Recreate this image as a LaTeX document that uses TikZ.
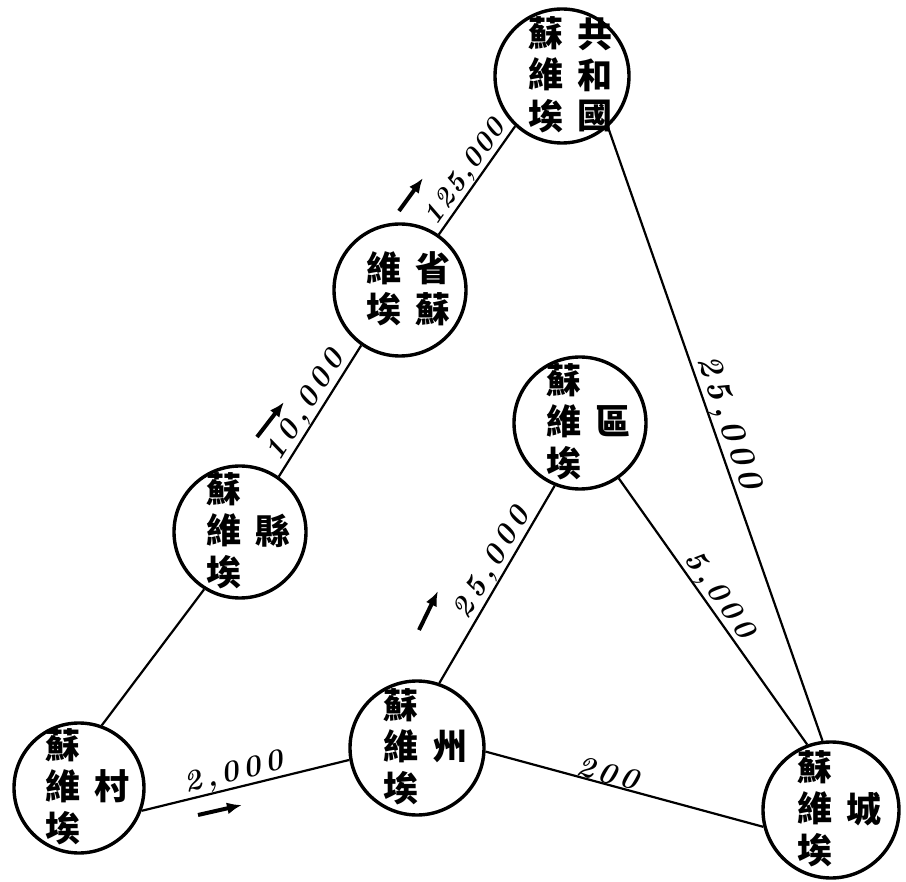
\documentclass[tikz,border=0pt]{standalone}
\usepackage{fontspec}
\newfontfamily\cjk{Noto Sans CJK TC}
\newfontfamily\hand{lmroman10-bolditalic.otf}[LetterSpace=16]
\newfontfamily\handtight{lmroman10-bolditalic.otf}[LetterSpace=7]
\usetikzlibrary{arrows.meta,positioning}

% one vertical column of characters
\newcommand\vcol[1]{\begin{tabular}[c]{@{}c@{}}#1\end{tabular}}
% #1 right column (read first), #2 left column; box of no size, so the circle keeps its size
\newcommand\soviet[2]{\makebox[0pt]{\hspace{16pt}\raisebox{-0.25em}[0pt][0pt]{\vcol{#2}\hspace{14pt}\vcol{#1}}}}

\tikzset{
  council/.style={circle, draw, line width=3.4pt, minimum size=#1, inner sep=0pt,
    font=\cjk\bfseries\fontsize{35}{37}\selectfont},
  council/.default=132pt,
  link/.style={line width=2.2pt},
  qty/.style={sloped, above, inner sep=0pt, font=\hand\fontsize{30}{30}\selectfont},
  flow/.style={-{Latex[length=15pt,width=12pt]}, line width=4pt},
}

\begin{document}
\begin{tikzpicture}[x=1pt,y=-1pt]
  \useasboundingbox (0,0) rectangle (906,882);

  % councils
  \node[council=134pt] (gong)  at (562,76)  {\soviet{共\\和\\國}{蘇\\維\\埃}};
  \node[council]       (sheng) at (400,290) {\soviet{省\\蘇}{維\\埃}};
  \node[council]       (xian)  at (240,532) {\soviet{縣}{蘇\\維\\埃}};
  \node[council]       (qu)    at (580,423) {\soviet{區}{蘇\\維\\埃}};
  \node[council=130pt] (cun)   at (79,788)  {\soviet{村}{蘇\\維\\埃}};
  \node[council=134pt] (zhou)  at (417,748) {\soviet{州}{蘇\\維\\埃}};
  \node[council=136pt] (cheng) at (831,810) {\soviet{城}{蘇\\維\\埃}};

  % links
  \draw[link] (cun.70)    -- (xian.-122);
  \draw[link] (xian.55)   -- node[qty,pos=0.48] (nxian) {10,000} (sheng.-125);
  \draw[link] (sheng.55)  -- node[qty,pos=0.5,font=\handtight\fontsize{28}{28}\selectfont] (nsheng) {125,000} (gong.-133);
  \draw[link] (gong.-48)  -- node[qty,pos=0.49,font=\hand\fontsize{34}{34}\selectfont] (ngong) {25,000} (cheng.97);
  \draw[link] (qu.-55)    -- node[qty,pos=0.47] (nqu) {5,000} (cheng.110);
  \draw[link] (zhou.71)   -- node[qty,pos=0.57] (nzhou) {25,000} (qu.-112);
  \draw[link] (cun.-20)   -- node[qty,pos=0.46] (ncun) {2,000} (zhou.190);
  \draw[link] (zhou.-3)   -- node[qty,pos=0.43] (nzc) {200} (cheng.194);

  % direction arrows
  \draw[flow] (399,211) -- (423,178);
  \draw[flow] (257,437) -- (284,402);
  \draw[flow] (419,630) -- (438,591);
  \draw[flow] (198,815) -- (242,805);
\end{tikzpicture}
\end{document}
